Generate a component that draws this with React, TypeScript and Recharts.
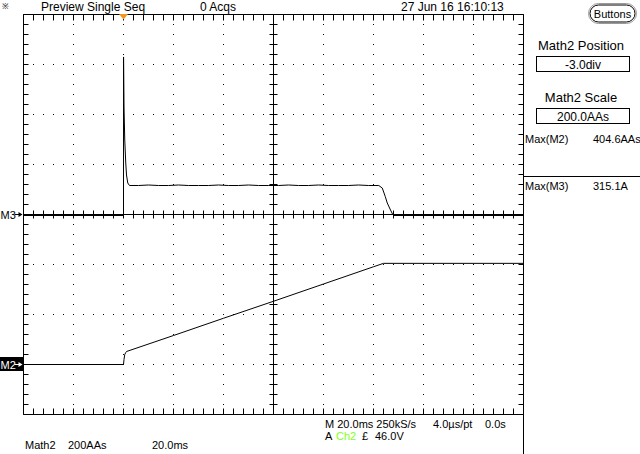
import { ComposedChart, Line, XAxis, YAxis, ReferenceLine, ReferenceDot } from "recharts";

const W = 640;
const H = 454;

// time base 20 ms/div, 0 = trigger point
const divTimes = [-40, -20, 0, 20, 40, 60, 80, 100, 120, 140, 160];
// M3 scale 100 A/div, 0 A on the centre line
const m3Divs = [-400, -300, -200, -100, 0, 100, 200, 300, 400];
// Math2 scale 200 AAs/div, position -3.0 div
const m2Domain = [-200, 1400];

// minor graticule ticks, 5 per division
const minorTimes = divTimes.flatMap((t, i) =>
    i < divTimes.length - 1 ? [t, t + 4, t + 8, t + 12, t + 16] : [t]
);
const minorAmps = m3Divs.flatMap((v, i) =>
    i < m3Divs.length - 1 ? [v, v + 20, v + 40, v + 60, v + 80] : [v]
);

// M3 current (A) vs time (ms)
const m3Time = [
    -40, 0, 0.02, 0.2, 0.5, 0.9, 1.2, 1.7, 2.4,
    6, 10, 14, 18, 22, 26, 30, 34, 38, 42, 46, 50,
    54, 58, 62, 66, 70, 74, 78, 82, 86, 90, 94, 98,
    102.1, 103.5, 104.7, 105.5, 106.8, 107.6, 108.2, 160,
];
const m3Amps = [
    -2, -2, 315.1, 215, 149, 103, 79, 63, 58,
    58, 59, 58, 58, 59, 58, 58, 58, 59, 58, 58, 59,
    58, 58, 58, 59, 58, 58, 59, 58, 58, 58, 59, 58,
    58, 53, 36, 23, 9, 1, -2, -2,
];

// Math2 (AAs) vs time (ms)
const m2Time = [-40, 0, 0.2, 0.5, 0.9, 1.2, 20, 40, 60, 80, 100, 104, 160];
const m2Vals = [0, 0, 20, 40, 48, 52, 116, 185, 253, 322, 391, 404.6, 404.6];

const m3Data = m3Time.map((t, i) => ({ t, v: m3Amps[i] }));
const m2Data = m2Time.map((t, i) => ({ t, v: m2Vals[i] }));

const font = "'Liberation Sans', Arial, sans-serif";

// graticule tick marks on the frame and the centre cross, in data units
const tickSegs = [
    ...minorTimes.flatMap((t) => [
        [{ x: t, y: 400 }, { x: t, y: 388 }],
        [{ x: t, y: -400 }, { x: t, y: -388 }],
        [{ x: t, y: -8 }, { x: t, y: 8 }],
    ]),
    ...minorAmps.flatMap((v) => [
        [{ x: -40, y: v }, { x: -38, y: v }],
        [{ x: 160, y: v }, { x: 158, y: v }],
        [{ x: 58.4, y: v }, { x: 61.6, y: v }],
    ]),
];

function Arrow({ x, y, color }: { x: number; y: number; color: string }) {
    return (
        <g stroke={color} fill={color}>
            <line x1={x} y1={y} x2={x + 5} y2={y} />
            <polygon points={`${x + 4},${y - 2.5} ${x + 8},${y} ${x + 4},${y + 2.5}`} stroke="none" />
        </g>
    );
}

function App() {
    const inner = divTimes.filter((t) => t !== -40 && t !== 160 && t !== 60);
    const rows = m3Divs.filter((v) => v !== -400 && v !== 400 && v !== 0);
    const maxM2 = Math.max(...m2Vals).toFixed(1);
    const maxM3 = Math.max(...m3Amps).toFixed(1);

    return (
        <div style={{ position: "relative", width: W, height: H, background: "#fff", fontFamily: font }}>
            <style>{"body{margin:0}"}</style>
            <ComposedChart
                width={W}
                height={H}
                margin={{ top: 14.5, right: 116.5, bottom: 39.5, left: 23.5 }}
            >
                <XAxis
                    xAxisId="b"
                    dataKey="t"
                    type="number"
                    domain={[-40, 160]}
                    allowDataOverflow
                    orientation="bottom"
                    mirror
                    ticks={divTimes}
                    tick={false}
                    tickLine={false}
                    stroke="#000"
                />
                <YAxis
                    yAxisId="m3"
                    type="number"
                    domain={[-400, 400]}
                    allowDataOverflow
                    orientation="left"
                    mirror
                    ticks={m3Divs}
                    tick={false}
                    tickLine={false}
                    stroke="#000"
                />
                <YAxis yAxisId="m2" type="number" domain={m2Domain} allowDataOverflow hide />

                {/* top and right edges of the frame */}
                <ReferenceLine y={400} xAxisId="b" yAxisId="m3" stroke="#000" ifOverflow="visible" />
                <ReferenceLine x={160} xAxisId="b" yAxisId="m3" stroke="#000" ifOverflow="visible" />

                {inner.map((t) => (
                    <ReferenceLine
                        key={"gx" + t}
                        x={t}
                        xAxisId="b"
                        yAxisId="m3"
                        stroke="#000"
                        strokeDasharray="1 9"
                        strokeDashoffset={0.5}
                    />
                ))}
                {rows.map((v) => (
                    <ReferenceLine
                        key={"gy" + v}
                        y={v}
                        xAxisId="b"
                        yAxisId="m3"
                        stroke="#000"
                        strokeDasharray="1 9"
                        strokeDashoffset={0.5}
                    />
                ))}
                <ReferenceLine x={60} xAxisId="b" yAxisId="m3" stroke="#000" />
                <ReferenceLine y={0} xAxisId="b" yAxisId="m3" stroke="#000" />
                {tickSegs.map((seg, i) => (
                    <ReferenceLine
                        key={"tk" + i}
                        xAxisId="b"
                        yAxisId="m3"
                        segment={seg}
                        stroke="#000"
                        ifOverflow="visible"
                    />
                ))}

                <Line
                    data={m3Data}
                    xAxisId="b"
                    yAxisId="m3"
                    dataKey="v"
                    type="linear"
                    stroke="#000"
                    strokeWidth={1}
                    dot={false}
                    isAnimationActive={false}
                />
                <Line
                    data={m2Data}
                    xAxisId="b"
                    yAxisId="m2"
                    dataKey="v"
                    type="linear"
                    stroke="#000"
                    strokeWidth={1}
                    dot={false}
                    isAnimationActive={false}
                />

                <ReferenceDot
                    x={0}
                    y={400}
                    xAxisId="b"
                    yAxisId="m3"
                    ifOverflow="visible"
                    shape={(p: any) => (
                        <polygon
                            points={`${p.cx - 4.5},${p.cy - 0.5} ${p.cx + 4.5},${p.cy - 0.5} ${p.cx},${p.cy + 5}`}
                            fill="#f7941d"
                        />
                    )}
                />
                <ReferenceDot
                    x={-40}
                    y={0}
                    xAxisId="b"
                    yAxisId="m3"
                    ifOverflow="visible"
                    shape={(p: any) => (
                        <g>
                            <text x={p.cx - 23} y={p.cy + 4.5} fontSize={11} fontFamily={font} fill="#000">
                                M3
                            </text>
                            <Arrow x={p.cx - 9} y={p.cy} color="#000" />
                        </g>
                    )}
                />
                <ReferenceDot
                    x={-40}
                    y={0}
                    xAxisId="b"
                    yAxisId="m2"
                    ifOverflow="visible"
                    shape={(p: any) => (
                        <g>
                            <rect x={p.cx - 23.5} y={p.cy - 7.5} width={23} height={14} fill="#000" />
                            <text x={p.cx - 23} y={p.cy + 4.5} fontSize={11} fontFamily={font} fill="#fff">
                                M2
                            </text>
                            <Arrow x={p.cx - 9} y={p.cy} color="#fff" />
                        </g>
                    )}
                />
            </ComposedChart>

            <svg
                width={W}
                height={H}
                style={{ position: "absolute", left: 0, top: 0, pointerEvents: "none" }}
                fontFamily={font}
                fill="#000"
            >
                <text x={2} y={9} fontSize={8}>※</text>
                <text x={41} y={11} fontSize={12}>Preview Single Seq</text>
                <text x={200} y={11} fontSize={12}>0 Acqs</text>
                <text x={401} y={11} fontSize={12}>27 Jun 16 16:10:13</text>

                <rect x={588.5} y={3.5} width={48} height={20} rx={10} fill="#fff" stroke="#999" />
                <rect x={590} y={5} width={45} height={17} rx={8.5} fill="none" stroke="#000" />
                <text x={612.5} y={18} fontSize={11} textAnchor="middle">Buttons</text>

                <text x={581} y={50} fontSize={13} textAnchor="middle">Math2 Position</text>
                <rect x={536.5} y={56.5} width={93} height={15} fill="none" stroke="#000" />
                <text x={583} y={69} fontSize={12} textAnchor="middle">-3.0div</text>

                <text x={581} y={102} fontSize={13} textAnchor="middle">Math2 Scale</text>
                <rect x={536.5} y={108.5} width={93} height={15} fill="none" stroke="#000" />
                <text x={583} y={121} fontSize={12} textAnchor="middle">200.0AAs</text>

                <text x={525} y={143} fontSize={11}>Max(M2)</text>
                <text x={593} y={143} fontSize={11}>{maxM2}AAs</text>
                <line x1={524} x2={640} y1={176.5} y2={176.5} stroke="#000" />
                <text x={525} y={190} fontSize={11}>Max(M3)</text>
                <text x={593} y={190} fontSize={11}>{maxM3}A</text>

                <line x1={523.5} x2={523.5} y1={414} y2={454} stroke="#000" />

                <text x={325} y={428} fontSize={11}>M 20.0ms 250kS/s</text>
                <text x={433} y={428} fontSize={11}>4.0µs/pt</text>
                <text x={485} y={428} fontSize={11}>0.0s</text>
                <text x={325} y={440} fontSize={11}>A</text>
                <text x={336} y={440} fontSize={11} fill="#80ff20">Ch2</text>
                <text x={362} y={440} fontSize={11}>£</text>
                <text x={375} y={440} fontSize={11}>46.0V</text>

                <text x={25} y={449} fontSize={11}>Math2</text>
                <text x={68} y={449} fontSize={11}>200AAs</text>
                <text x={152} y={449} fontSize={11}>20.0ms</text>
            </svg>
        </div>
    );
}

export default App;
